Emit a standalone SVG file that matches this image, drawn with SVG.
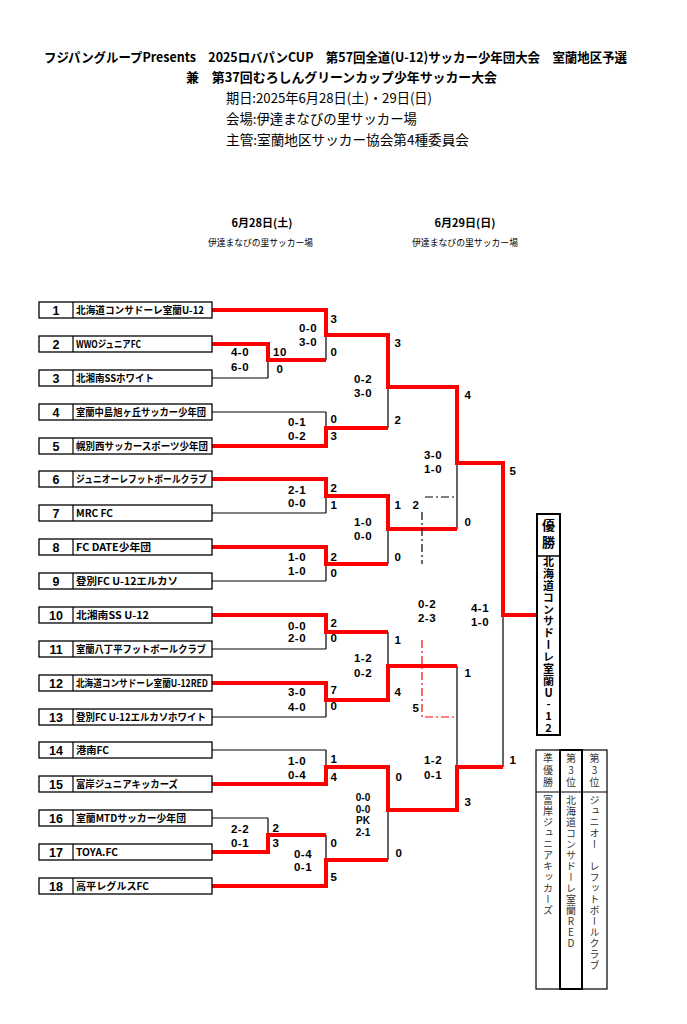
<svg xmlns="http://www.w3.org/2000/svg" width="687" height="1024" viewBox="0 0 687 1024">
<style>
.bg{fill:#fff}
.box{fill:#fff;stroke:#000;stroke-width:1.3}
.ln{fill:none;stroke:#000;stroke-width:1.2}
.rd{fill:none;stroke:#f00;stroke-width:4;stroke-linejoin:miter}
.dd{fill:none;stroke:#000;stroke-width:1.2;stroke-dasharray:8 3 2 3}
.ddr{fill:none;stroke:#f00;stroke-width:1.2;stroke-dasharray:8 3 2 3}
.num{font-family:"Liberation Sans",Arial,sans-serif;font-weight:700;font-size:12.5px;text-anchor:middle}
.nm{font-family:"Noto Sans CJK JP","Noto Sans",sans-serif;font-weight:700;font-size:10px}
.sc{font-family:"Liberation Sans",Arial,sans-serif;font-weight:700;font-size:11.5px;text-anchor:middle;letter-spacing:0.5px}
.scs{font-family:"Liberation Sans",Arial,sans-serif;font-weight:700;font-size:10px;text-anchor:middle}
.t1{font-family:"Noto Sans CJK JP",sans-serif;font-weight:700;font-size:13px}
.t2{font-family:"Noto Sans CJK JP",sans-serif;font-weight:400;font-size:13.5px}
.dh{font-family:"Noto Sans CJK JP",sans-serif;font-weight:700;font-size:11px;text-anchor:middle}
.dv{font-family:"Noto Sans CJK JP",sans-serif;font-weight:400;font-size:9px}
.vt{font-family:"Noto Sans CJK JP",sans-serif;font-weight:700;font-size:11px;writing-mode:vertical-rl;text-orientation:upright}
.vh{font-family:"Noto Sans CJK JP",sans-serif;font-weight:700;font-size:13px;writing-mode:vertical-rl;text-orientation:upright;letter-spacing:3.7px}
.vs{font-family:"Noto Sans CJK JP",sans-serif;font-weight:400;font-size:10px;fill:#333;writing-mode:vertical-rl;text-orientation:upright}
</style>
<rect class="bg" x="0" y="0" width="687" height="1024"/>

<g id="header">
<text class="t1" x="44" y="62" textLength="583" lengthAdjust="spacingAndGlyphs">フジパングループPresents　2025ロバパンCUP　第57回全道(U-12)サッカー少年団大会　室蘭地区予選</text>
<text class="t1" x="186" y="82" textLength="311" lengthAdjust="spacingAndGlyphs">兼　第37回むろしんグリーンカップ少年サッカー大会</text>
<text class="t2" x="226" y="103" textLength="206" lengthAdjust="spacingAndGlyphs">期日:2025年6月28日(土)・29日(日)</text>
<text class="t2" x="226" y="124" textLength="191" lengthAdjust="spacingAndGlyphs">会場:伊達まなびの里サッカー場</text>
<text class="t2" x="226" y="145" textLength="243" lengthAdjust="spacingAndGlyphs">主管:室蘭地区サッカー協会第4種委員会</text>
</g>

<g id="day-headers">
<text class="dh" x="262" y="227">6月28日(土)</text>
<text class="dv" x="208" y="245.5" textLength="105" lengthAdjust="spacingAndGlyphs">伊達まなびの里サッカー場</text>
<text class="dh" x="465" y="227">6月29日(日)</text>
<text class="dv" x="412" y="245.5" textLength="106" lengthAdjust="spacingAndGlyphs">伊達まなびの里サッカー場</text>
</g>

<g id="connectors">
<!-- black team lines -->
<path class="ln" d="M212 310H326M212 344H268M212 378H268M212 412H326M212 446H326M212 479H326M212 513H326M212 547H326M212 581H326M212 615H326M212 649H326M212 683H326M212 717H326M212 750H326M212 784H326M212 818H268M212 852H268M212 886H326"/>
<!-- black verticals -->
<path class="ln" d="M268 344V378M268 818V852M326 310V360M326 412V446M326 479V513M326 547V581M326 615V649M326 683V717M326 750V784M326 835V886M388 335V428M388 496V564M388 632V700M388 767V860M457 387V529M457 666V810M503 463V767"/>
<!-- red winner paths -->
<polyline class="rd" points="212,310 326,310 326,335 388,335 388,387 457,387 457,463 503,463 503,615 537,615"/>
<polyline class="rd" points="212,344 268,344 268,360 326,360"/>
<polyline class="rd" points="212,446 326,446 326,428 388,428"/>
<polyline class="rd" points="212,479 326,479 326,496 388,496 388,529 457,529"/>
<polyline class="rd" points="212,547 326,547 326,564 388,564"/>
<polyline class="rd" points="212,615 326,615 326,632 388,632"/>
<polyline class="rd" points="212,683 326,683 326,700 388,700 388,666 457,666"/>
<polyline class="rd" points="212,784 326,784 326,767 388,767 388,810 457,810 457,767 503,767"/>
<polyline class="rd" points="212,852 268,852 268,835 326,835"/>
<polyline class="rd" points="212,886 326,886 326,860 388,860"/>
<!-- dash-dot lines -->
<path class="dd" d="M425 497H455M422 512V564"/>
<path class="ddr" d="M422 640V717H455"/>
</g>

<g id="scores">
<text class="sc" x="240" y="356">4-0</text><text class="sc" x="240" y="371">6-0</text>
<text class="sc" x="280" y="356">10</text><text class="sc" x="280" y="373">0</text>
<text class="sc" x="308" y="332">0-0</text><text class="sc" x="308" y="346">3-0</text>
<text class="sc" x="334" y="323">3</text><text class="sc" x="334" y="356">0</text>
<text class="sc" x="297" y="426">0-1</text><text class="sc" x="297" y="440">0-2</text>
<text class="sc" x="334" y="423">0</text><text class="sc" x="334" y="440">3</text>
<text class="sc" x="363" y="383">0-2</text><text class="sc" x="363" y="397">3-0</text>
<text class="sc" x="398" y="347">3</text><text class="sc" x="398" y="424">2</text>
<text class="sc" x="433" y="459">3-0</text><text class="sc" x="433" y="473">1-0</text>
<text class="sc" x="468" y="399">4</text><text class="sc" x="468" y="526">0</text>
<text class="sc" x="513" y="475">5</text><text class="sc" x="513" y="764">1</text>
<text class="sc" x="297" y="494">2-1</text><text class="sc" x="297" y="507">0-0</text>
<text class="sc" x="334" y="492">2</text><text class="sc" x="334" y="509">1</text>
<text class="sc" x="297" y="561">1-0</text><text class="sc" x="297" y="575">1-0</text>
<text class="sc" x="334" y="561">2</text><text class="sc" x="334" y="577">0</text>
<text class="sc" x="363" y="526">1-0</text><text class="sc" x="363" y="540">0-0</text>
<text class="sc" x="398" y="509">1</text><text class="sc" x="398" y="561">0</text>
<text class="sc" x="416" y="509">2</text>
<text class="sc" x="427" y="608">0-2</text><text class="sc" x="427" y="622">2-3</text>
<text class="sc" x="480" y="612">4-1</text><text class="sc" x="480" y="626">1-0</text>
<text class="sc" x="297" y="630">0-0</text><text class="sc" x="297" y="642">2-0</text>
<text class="sc" x="334" y="627">2</text><text class="sc" x="334" y="642">0</text>
<text class="sc" x="297" y="696">3-0</text><text class="sc" x="297" y="711">4-0</text>
<text class="sc" x="334" y="694">7</text><text class="sc" x="334" y="710">0</text>
<text class="sc" x="363" y="662">1-2</text><text class="sc" x="363" y="677">0-2</text>
<text class="sc" x="398" y="644">1</text><text class="sc" x="398" y="696">4</text>
<text class="sc" x="468" y="677">1</text><text class="sc" x="468" y="806">3</text>
<text class="sc" x="416" y="712">5</text>
<text class="sc" x="433" y="764">1-2</text><text class="sc" x="433" y="779">0-1</text>
<text class="sc" x="297" y="765">1-0</text><text class="sc" x="297" y="779">0-4</text>
<text class="sc" x="334" y="763">1</text><text class="sc" x="334" y="781">4</text>
<text class="sc" x="399" y="781">0</text><text class="sc" x="399" y="857">0</text>
<text class="scs" x="363" y="801">0-0</text><text class="scs" x="363" y="813">0-0</text><text class="scs" x="363" y="824">PK</text><text class="scs" x="363" y="836">2-1</text>
<text class="sc" x="240" y="833">2-2</text><text class="sc" x="240" y="847">0-1</text>
<text class="sc" x="276" y="832">2</text><text class="sc" x="276" y="847">3</text>
<text class="sc" x="303" y="858">0-4</text><text class="sc" x="303" y="871">0-1</text>
<text class="sc" x="334" y="847">0</text><text class="sc" x="334" y="881">5</text>
</g>

<g id="team1"><rect class="box" x="39" y="302" width="173" height="16"/><path class="ln" d="M73 302V318"/><text class="num" x="56" y="314.5">1</text><text class="nm" x="76" y="313.7" textLength="128" lengthAdjust="spacingAndGlyphs">北海道コンサドーレ室蘭U-12</text></g>
<g id="team2"><rect class="box" x="39" y="336" width="173" height="16"/><path class="ln" d="M73 336V352"/><text class="num" x="56" y="348.5">2</text><text class="nm" x="76" y="347.7" textLength="65" lengthAdjust="spacingAndGlyphs">WWOジュニアFC</text></g>
<g id="team3"><rect class="box" x="39" y="370" width="173" height="16"/><path class="ln" d="M73 370V386"/><text class="num" x="56" y="382.5">3</text><text class="nm" x="76" y="381.7" textLength="78" lengthAdjust="spacingAndGlyphs">北湘南SSホワイト</text></g>
<g id="team4"><rect class="box" x="39" y="404" width="173" height="16"/><path class="ln" d="M73 404V420"/><text class="num" x="56" y="416.5">4</text><text class="nm" x="76" y="415.7" textLength="130" lengthAdjust="spacingAndGlyphs">室蘭中島旭ヶ丘サッカー少年団</text></g>
<g id="team5"><rect class="box" x="39" y="438" width="173" height="16"/><path class="ln" d="M73 438V454"/><text class="num" x="56" y="450.5">5</text><text class="nm" x="76" y="449.7" textLength="132" lengthAdjust="spacingAndGlyphs">幌別西サッカースポーツ少年団</text></g>
<g id="team6"><rect class="box" x="39" y="471" width="173" height="16"/><path class="ln" d="M73 471V487"/><text class="num" x="56" y="483.5">6</text><text class="nm" x="76" y="482.7" textLength="131" lengthAdjust="spacingAndGlyphs">ジュニオーレフットボールクラブ</text></g>
<g id="team7"><rect class="box" x="39" y="505" width="173" height="16"/><path class="ln" d="M73 505V521"/><text class="num" x="56" y="517.5">7</text><text class="nm" x="76" y="516.7" textLength="37" lengthAdjust="spacingAndGlyphs">MRC FC</text></g>
<g id="team8"><rect class="box" x="39" y="539" width="173" height="16"/><path class="ln" d="M73 539V555"/><text class="num" x="56" y="551.5">8</text><text class="nm" x="76" y="550.7" textLength="75" lengthAdjust="spacingAndGlyphs">FC DATE少年団</text></g>
<g id="team9"><rect class="box" x="39" y="573" width="173" height="16"/><path class="ln" d="M73 573V589"/><text class="num" x="56" y="585.5">9</text><text class="nm" x="76" y="584.7" textLength="102" lengthAdjust="spacingAndGlyphs">登別FC U-12エルカソ</text></g>
<g id="team10"><rect class="box" x="39" y="607" width="173" height="16"/><path class="ln" d="M73 607V623"/><text class="num" x="56" y="619.5">10</text><text class="nm" x="76" y="618.7" textLength="73" lengthAdjust="spacingAndGlyphs">北湘南SS U-12</text></g>
<g id="team11"><rect class="box" x="39" y="641" width="173" height="16"/><path class="ln" d="M73 641V657"/><text class="num" x="56" y="653.5">11</text><text class="nm" x="76" y="652.7" textLength="130" lengthAdjust="spacingAndGlyphs">室蘭八丁平フットボールクラブ</text></g>
<g id="team12"><rect class="box" x="39" y="675" width="173" height="16"/><path class="ln" d="M73 675V691"/><text class="num" x="56" y="687.5">12</text><text class="nm" x="76" y="686.7" textLength="132" lengthAdjust="spacingAndGlyphs">北海道コンサドーレ室蘭U-12RED</text></g>
<g id="team13"><rect class="box" x="39" y="709" width="173" height="16"/><path class="ln" d="M73 709V725"/><text class="num" x="56" y="721.5">13</text><text class="nm" x="76" y="720.7" textLength="130" lengthAdjust="spacingAndGlyphs">登別FC U-12エルカソホワイト</text></g>
<g id="team14"><rect class="box" x="39" y="742" width="173" height="16"/><path class="ln" d="M73 742V758"/><text class="num" x="56" y="754.5">14</text><text class="nm" x="76" y="753.7" textLength="33" lengthAdjust="spacingAndGlyphs">港南FC</text></g>
<g id="team15"><rect class="box" x="39" y="776" width="173" height="16"/><path class="ln" d="M73 776V792"/><text class="num" x="56" y="788.5">15</text><text class="nm" x="76" y="787.7" textLength="102" lengthAdjust="spacingAndGlyphs">富岸ジュニアキッカーズ</text></g>
<g id="team16"><rect class="box" x="39" y="810" width="173" height="16"/><path class="ln" d="M73 810V826"/><text class="num" x="56" y="822.5">16</text><text class="nm" x="76" y="821.7" textLength="110" lengthAdjust="spacingAndGlyphs">室蘭MTDサッカー少年団</text></g>
<g id="team17"><rect class="box" x="39" y="844" width="173" height="16"/><path class="ln" d="M73 844V860"/><text class="num" x="56" y="856.5">17</text><text class="nm" x="76" y="855.7" textLength="42" lengthAdjust="spacingAndGlyphs">TOYA.FC</text></g>
<g id="team18"><rect class="box" x="39" y="878" width="173" height="16"/><path class="ln" d="M73 878V894"/><text class="num" x="56" y="890.5">18</text><text class="nm" x="76" y="889.7" textLength="73" lengthAdjust="spacingAndGlyphs">高平レグルスFC</text></g>

<g id="champion">
<rect x="537" y="514" width="23" height="221" fill="#fff" stroke="#000" stroke-width="2"/>
<path d="M537 556H560" stroke="#000" stroke-width="1.5"/>
<text class="vh" x="548.5" y="518.5">優勝</text>
<text class="vt" x="548.5" y="556.5" style="letter-spacing:0.86px">北海道コンサドーレ室蘭U-12</text>
</g>

<g id="results">
<rect x="536" y="750" width="71" height="239" fill="#fff" stroke="#000" stroke-width="1.2"/>
<path d="M536 792H607" stroke="#000" stroke-width="1.2"/>
<rect x="560" y="750" width="22" height="239" fill="none" stroke="#000" stroke-width="2"/>
<text class="vs" x="548" y="753" style="letter-spacing:2px">準優勝</text>
<text class="vs" x="571" y="753" style="letter-spacing:2px">第3位</text>
<text class="vs" x="594.5" y="753" style="letter-spacing:2px">第3位</text>
<text class="vs" x="548" y="795" style="letter-spacing:1px">富岸ジュニアキッカーズ</text>
<text class="vs" x="571" y="795" style="letter-spacing:1px">北海道コンサドーレ室蘭RED</text>
<text class="vs" x="594.5" y="795" style="letter-spacing:1px">ジュニオー　レフットボールクラブ</text>
</g>
</svg>
